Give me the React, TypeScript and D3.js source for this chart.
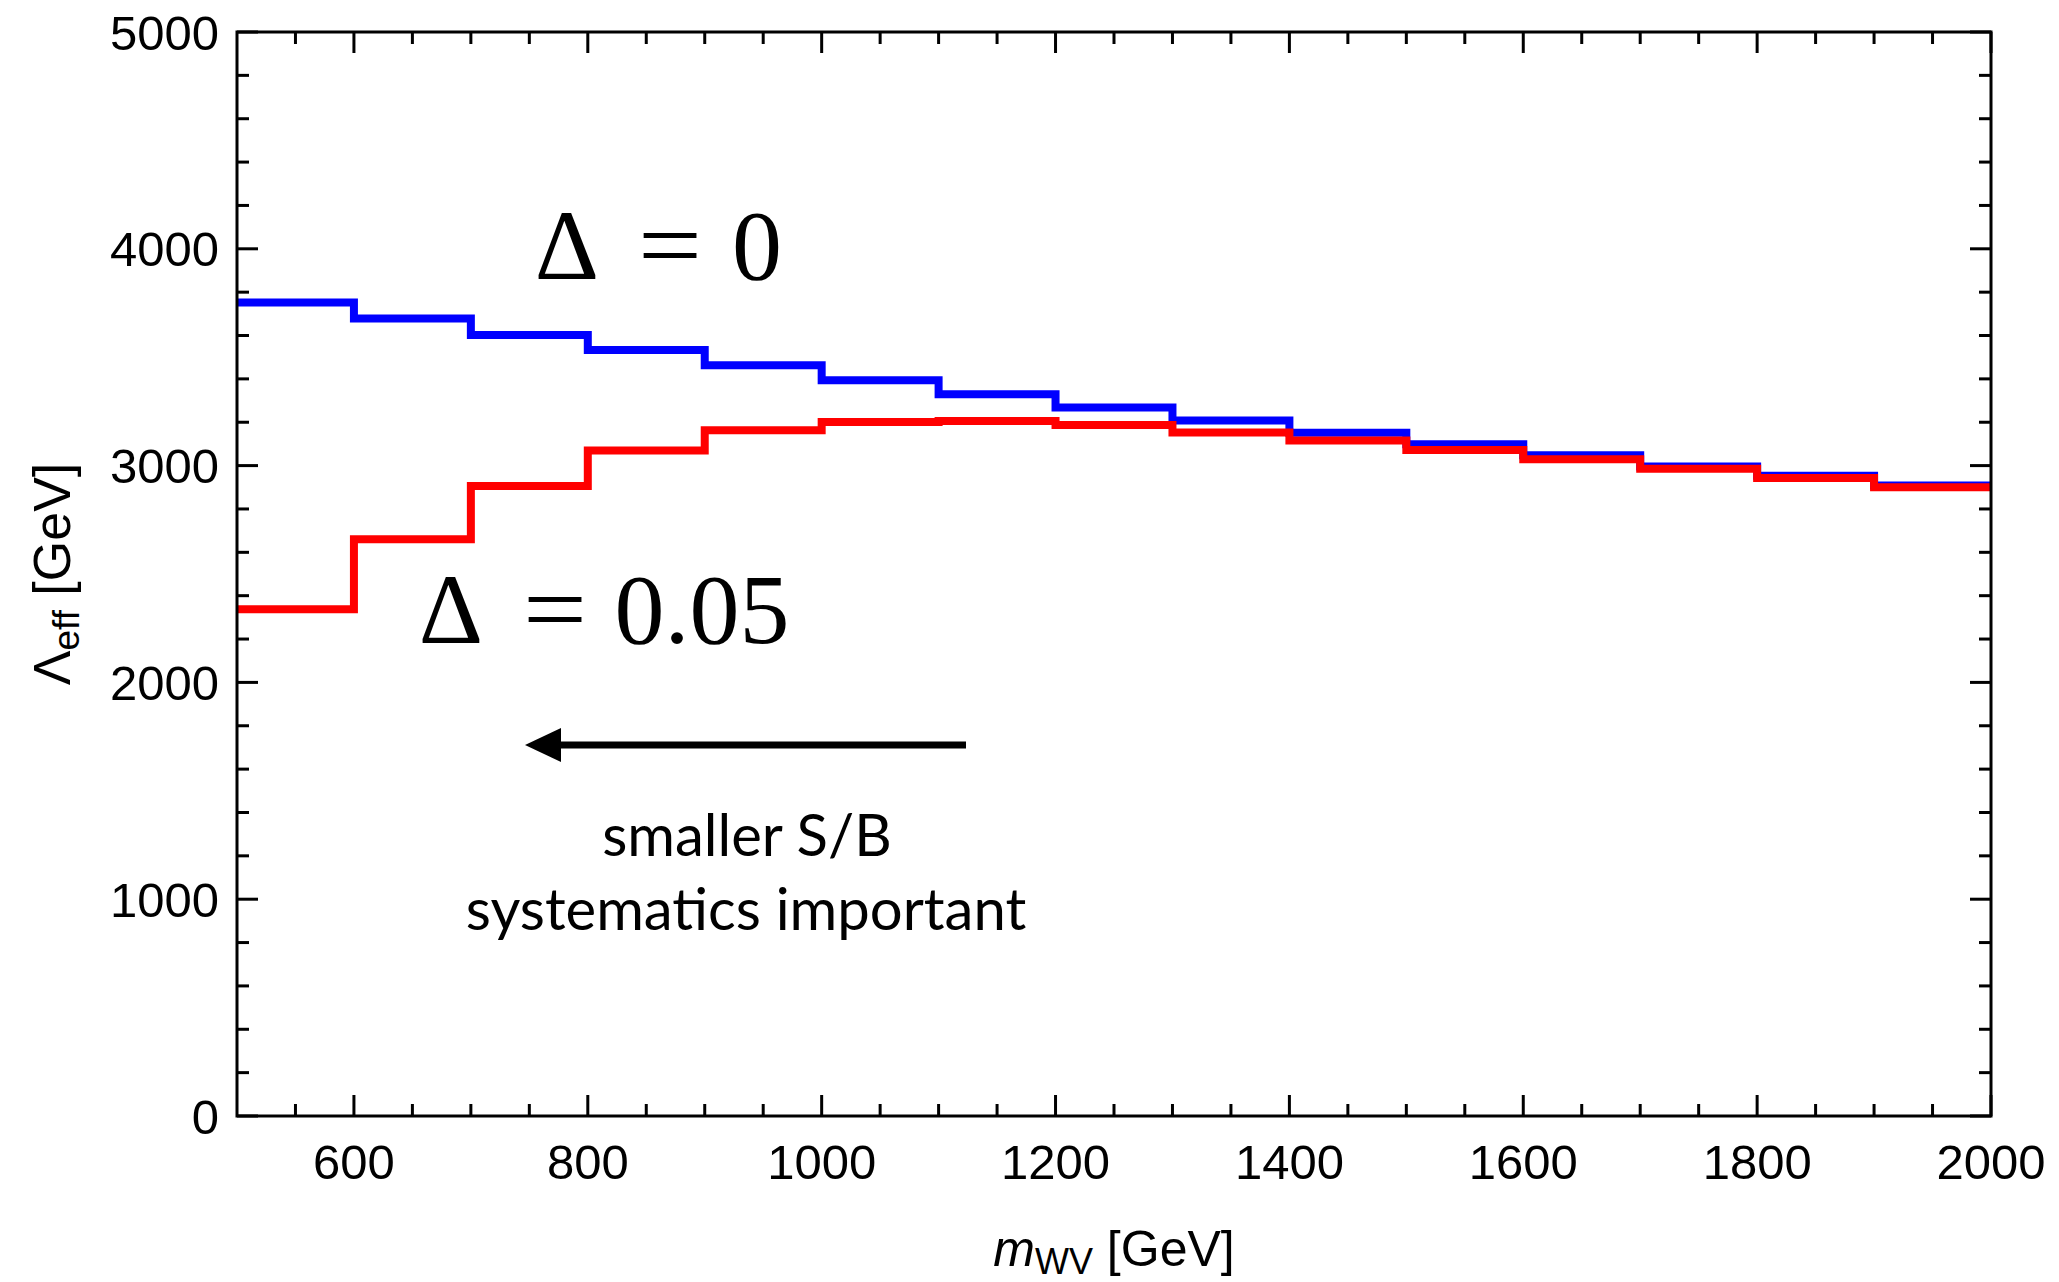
import React from "react";
import { scaleLinear, line, curveStepAfter, range } from "d3";

// bin lower edges (GeV), last edge closes the histogram
const binEdges = [500, 600, 700, 800, 900, 1000, 1100, 1200, 1300, 1400, 1500, 1600, 1700, 1800, 1900, 2000];
// Lambda_eff [GeV] for Delta = 0
const delta0 = [3752, 3678, 3602, 3533, 3463, 3394, 3329, 3268, 3208, 3152, 3099, 3048, 2996, 2953, 2908];
// Lambda_eff [GeV] for Delta = 0.05
const delta005 = [2337, 2660, 2906, 3070, 3163, 3201, 3206, 3187, 3153, 3116, 3072, 3029, 2986, 2943, 2900];

const xTickLabels = [600, 800, 1000, 1200, 1400, 1600, 1800, 2000];
const yTickLabels = [0, 1000, 2000, 3000, 4000, 5000];

const W = 2059;
const H = 1282;
const margin = { left: 237, right: 68, top: 32, bottom: 166 };

const App = () => {
  const x = scaleLinear().domain([500, 2000]).range([margin.left, W - margin.right]);
  const y = scaleLinear().domain([0, 5000]).range([H - margin.bottom, margin.top]);
  const [x0, x1] = x.range();
  const [y0, y1] = y.range();

  const toPoints = (vals: number[]) => {
    const pts = vals.map((v, i) => [binEdges[i], v] as [number, number]);
    pts.push([binEdges[binEdges.length - 1], vals[vals.length - 1]]);
    return pts;
  };

  const stepLine = line<[number, number]>()
    .x(d => x(d[0]))
    .y(d => y(d[1]))
    .curve(curveStepAfter);

  const xMinor = range(550, 2000, 50).filter(v => v % 200 !== 0);
  const yMinor = range(200, 5000, 200).filter(v => v % 1000 !== 0);
  const MAJ = 21;
  const MIN = 12;

  const tickFont = "'Liberation Sans', Arial, sans-serif";
  const serif = "'Liberation Serif', 'Times New Roman', serif";

  return (
    <svg width={W} height={H} style={{ position: "absolute", left: 0, top: 0, background: "#fff" }}>
      {/* step lines */}
      <path d={stepLine(toPoints(delta0)) || ""} fill="none" stroke="#0000ff" strokeWidth={8} />
      <path d={stepLine(toPoints(delta005)) || ""} fill="none" stroke="#ff0000" strokeWidth={8} />

      {/* ticks on all sides */}
      <g stroke="#000" strokeWidth={3}>
        {xTickLabels.map(v => (
          <g key={"xM" + v}>
            <line x1={x(v)} x2={x(v)} y1={y0} y2={y0 - MAJ} />
            <line x1={x(v)} x2={x(v)} y1={y1} y2={y1 + MAJ} />
          </g>
        ))}
        {xMinor.map(v => (
          <g key={"xm" + v}>
            <line x1={x(v)} x2={x(v)} y1={y0} y2={y0 - MIN} />
            <line x1={x(v)} x2={x(v)} y1={y1} y2={y1 + MIN} />
          </g>
        ))}
        {yTickLabels.map(v => (
          <g key={"yM" + v}>
            <line x1={x0} x2={x0 + MAJ} y1={y(v)} y2={y(v)} />
            <line x1={x1} x2={x1 - MAJ} y1={y(v)} y2={y(v)} />
          </g>
        ))}
        {yMinor.map(v => (
          <g key={"ym" + v}>
            <line x1={x0} x2={x0 + MIN} y1={y(v)} y2={y(v)} />
            <line x1={x1} x2={x1 - MIN} y1={y(v)} y2={y(v)} />
          </g>
        ))}
      </g>
      <rect x={x0} y={y1} width={x1 - x0} height={y0 - y1} fill="none" stroke="#000" strokeWidth={3} />

      {/* tick labels */}
      <g fontFamily={tickFont} fontSize={49} fill="#000">
        {xTickLabels.map(v => (
          <text key={"xl" + v} x={x(v)} y={y0 + 63} textAnchor="middle">{v}</text>
        ))}
        {yTickLabels.map(v => (
          <text key={"yl" + v} x={x0 - 18} y={y(v)} dy="0.36em" textAnchor="end">{v}</text>
        ))}
      </g>

      {/* axis titles */}
      <text x={(x0 + x1) / 2} y={1266} textAnchor="middle" fontFamily={tickFont} fontSize={50}>
        <tspan fontStyle="italic">m</tspan>
        <tspan fontSize={36} dy={8}>WV</tspan>
        <tspan dy={-8}> [GeV]</tspan>
      </text>
      <text transform={`translate(70, ${(y0 + y1) / 2}) rotate(-90)`} textAnchor="middle" fontFamily={tickFont} fontSize={52}>
        <tspan>Λ</tspan>
        <tspan fontSize={37} dy={9}>eff</tspan>
        <tspan dy={-9}> [GeV]</tspan>
      </text>

      {/* series labels */}
      <g fontFamily={serif} fontSize={100} fill="#000">
        <text x={567} y={279} textAnchor="middle">Δ</text>
        <text x={638} y={279} textLength={64} lengthAdjust="spacingAndGlyphs">=</text>
        <text x={757} y={279} textAnchor="middle">0</text>
        <text x={451} y={643} textAnchor="middle">Δ</text>
        <text x={523} y={643} textLength={64} lengthAdjust="spacingAndGlyphs">=</text>
        <text x={702} y={643} textAnchor="middle">0.05</text>
      </g>

      {/* annotation */}
      <line x1={966} x2={550} y1={745} y2={745} stroke="#000" strokeWidth={7} />
      <path d="M525,745 L561,728 L561,762 Z" fill="#000" />
      <g fontFamily="Lato, 'Open Sans', sans-serif" fontSize={58} textAnchor="middle" fill="#000">
        <text x={747} y={856}>smaller S/B</text>
        <text x={746} y={930}>systematics important</text>
      </g>
    </svg>
  );
};

export default App;
